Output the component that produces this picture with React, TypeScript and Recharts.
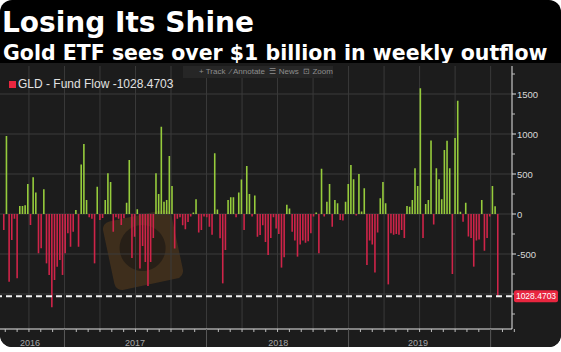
import { Bar, BarChart, CartesianGrid, Cell, ReferenceLine, XAxis, YAxis } from 'recharts';

// weekly GLD fund flow, $M (oldest first)
const fundFlow = [
  -200, 975, -846, -325, -60, -804, 100, 100, 110, 375, -137, 460, 270, -492, -429, 310,
  -617, -762, -1167, -825, -658, -575, -762, -492, -242, -408, -221, 50, -408, 620, 875, 175,
  -40, -60, -617, 340, -75, -50, 175, 510, 400, -221, -40, -60, -137, -54, 140, 675,
  -550, -283, 58, -680, -400, -600, -900, -600, -300, 508, 250, 1092, 154, 175, 725, 350,
  -430, -60, -40, -140, -190, -100, -30, 20, 183, -230, -200, -30, -40, -158, -260, 758,
  55, -304, -867, -450, 175, 208, 208, -40, 270, 430, -200, 600, 250, -30, 230, -283,
  -262, -140, -350, -512, -300, -40, -180, -250, -670, -540, 115, 70, -221, -330, -533, -380,
  -330, -360, -340, -240, -30, 20, -492, 565, -30, 154, 375, -158, 175, 133, -75, -80,
  154, 375, 612, 433, -20, 500, 30, 321, -637, -330, -380, -730, -230, 196, 400, 133,
  -880, -242, -260, -250, -260, -200, -300, 100, 92, 175, 571, 350, 1571, -300, 125, 175,
  920, -130, 571, 433, 183, 800, 917, 571, -750, 950, 1417, 29, -96, 142, -280, -300,
  -658, -330, -320, 175, -460, -300, -30, 350, 96, -1028.4703,
];

const latest = fundFlow[fundFlow.length - 1];

// week index positions of quarter starts / year starts / year label centres
const quarterWeeks = [9.6, 22.9, 36.2, 49.5, 62.8, 76.1, 89.4, 102.7, 116.0, 129.3, 142.6, 155.9, 169.2, 182.5];
const yearStartWeeks = [22.9, 76.1, 129.3, 182.5];
const yearLabels = ['2016', '2017', '2018', '2019'];
const yearLabelWeeks = [10, 49.3, 103, 155.3];

const yTicks = [-1250, -1000, -750, -500, -250, 0, 250, 500, 750, 1000, 1250, 1500, 1750];
const gridValues = [-1000, -500, 0, 500, 1000, 1500];

const data = fundFlow.map((v, i) => ({ i, v }));

const qStep = quarterWeeks[1] - quarterWeeks[0];
const monthTicks: number[] = [];
for (let q = quarterWeeks[0] - qStep; q < 190; q += qStep) {
  for (let k = 0; k < 3; k++) monthTicks.push(+(q + (k * qStep) / 3).toFixed(2));
}
const xTicks = Array.from(new Set([...monthTicks.filter((t) => t > -1), ...yearStartWeeks, ...yearLabelWeeks])).sort(
  (a, b) => a - b,
);

const XTick = (props: any) => {
  const { x, y, payload } = props;
  const v = payload.value;
  const li = yearLabelWeeks.indexOf(v);
  if (li >= 0) {
    return (
      <text x={x} y={y + 17} fill="#a8a8a8" fontSize={9} textAnchor="middle" fontFamily="Liberation Sans, Arial">
        {yearLabels[li]}
      </text>
    );
  }
  if (yearStartWeeks.includes(v)) {
    return <line x1={x} x2={x} y1={y} y2={y + 18} stroke="#5a5a5a" />;
  }
  return <line x1={x} x2={x} y1={y} y2={y + 3} stroke="#bdbdbd" />;
};

const YTick = (props: any) => {
  const { x, y, payload } = props;
  const v = payload.value;
  if (v === latest) {
    return (
      <g>
        <rect x={x + 2} y={y - 6} width={44} height={12} rx={2} fill="#e8263f" />
        <text x={x + 24} y={y + 3.2} fill="#fff" fontSize={8.5} textAnchor="middle" fontFamily="Liberation Sans, Arial">
          {Math.abs(v).toFixed(4)}
        </text>
      </g>
    );
  }
  if (v % 500 === 0 && v !== -1000) {
    return (
      <g>
        <line x1={x} x2={x + 4} y1={y} y2={y} stroke="#e0e0e0" />
        <text x={x + 5} y={y + 3.5} fill="#d8d8d8" fontSize={9.5} fontFamily="Liberation Sans, Arial">
          {v}
        </text>
      </g>
    );
  }
  return <line x1={x} x2={x + 3} y1={y} y2={y} stroke="#bdbdbd" />;
};

export default function App() {
  return (
    <div
      style={{
        position: 'absolute',
        left: 0,
        top: 0,
        width: 561,
        height: 352,
        background: '#fff',
        overflow: 'hidden',
      }}
    >
      <div
        style={{
          position: 'absolute',
          left: 0,
          top: 0,
          width: 561,
          height: 347,
          background: '#000',
          borderRadius: 12,
          overflow: 'hidden',
          fontFamily: 'Liberation Sans, Arial, sans-serif',
        }}
      >
        {/* TITLE */}
        <div
          style={{
            position: 'absolute',
            left: 2,
            top: 6,
            color: '#fff',
            fontFamily: 'DejaVu Sans, sans-serif',
            fontSize: 28,
            fontWeight: 700,
            lineHeight: '34px',
            whiteSpace: 'nowrap',
          }}
        >
          Losing Its Shine
        </div>
        <div
          style={{
            position: 'absolute',
            left: 3,
            top: 41,
            color: '#fff',
            fontFamily: 'DejaVu Sans, sans-serif',
            fontSize: 20.5,
            fontWeight: 700,
            lineHeight: '24px',
            whiteSpace: 'nowrap',
          }}
        >
          Gold ETF sees over $1 billion in weekly outflow
        </div>

        {/* CHART PANEL */}
        <div
          style={{
            position: 'absolute',
            left: 0,
            top: 63,
            width: 561,
            height: 284,
            background: '#1c1c1c',
            borderRadius: '0 0 12px 12px',
            overflow: 'hidden',
          }}
        >
          {/* watermark in the source picture */}
          <div
            style={{
              position: 'absolute',
              left: 108,
              top: 152,
              width: 70,
              height: 70,
              borderRadius: 8,
              background: 'rgba(150,95,30,0.28)',
              transform: 'rotate(-12deg)',
            }}
          >
            <div
              style={{
                position: 'absolute',
                left: 12,
                top: 10,
                width: 46,
                height: 46,
                borderRadius: '50%',
                background: 'rgba(20,20,20,0.55)',
              }}
            />
          </div>
          <BarChart
            width={561}
            height={284}
            data={data}
            margin={{ top: 3, right: 0, bottom: 0, left: 0 }}
            barCategoryGap={0}
            style={{ position: 'relative' }}
          >
            <CartesianGrid
              stroke="#3a3a3a"
              horizontalValues={gridValues}
              verticalValues={quarterWeeks}
              fill="none"
            />
            <XAxis
              dataKey="i"
              type="number"
              domain={[-1.24, 190.5]}
              ticks={xTicks}
              interval={0}
              height={18}
              tickSize={0}
              tickMargin={0}
              tickLine={false}
              axisLine={{ stroke: '#e6e6e6' }}
              tick={XTick}
              allowDataOverflow
            />
            <YAxis
              orientation="right"
              type="number"
              domain={[-1437.5, 1850]}
              ticks={[...yTicks, latest]}
              interval={0}
              width={49}
              tickSize={0}
              tickMargin={0}
              tickLine={false}
              axisLine={{ stroke: '#e6e6e6' }}
              tick={YTick}
              allowDataOverflow
            />
            <ReferenceLine y={latest} stroke="#f2f2f2" strokeWidth={2} strokeDasharray="6 4" />
            <Bar dataKey="v" barSize={1.6} isAnimationActive={false}>
              {data.map((d) => (
                <Cell key={d.i} fill={d.v >= 0 ? '#96cc3c' : '#cf2449'} />
              ))}
            </Bar>
          </BarChart>

          {/* LEGEND */}
          <div
            style={{
              position: 'absolute',
              left: 9,
              top: 14,
              display: 'flex',
              alignItems: 'center',
              color: '#e2e2e2',
              fontSize: 12,
              whiteSpace: 'nowrap',
            }}
          >
            <span style={{ width: 7, height: 7, background: '#e8263f', marginRight: 2 }} />
            GLD - Fund Flow -1028.4703
          </div>

          {/* TOOLBAR */}
          <div
            style={{
              position: 'absolute',
              left: 183,
              top: 3,
              width: 150,
              height: 12,
              background: '#262626',
              color: '#8e8e8e',
              fontSize: 8,
              lineHeight: '12px',
              whiteSpace: 'nowrap',
              paddingLeft: 16,
              boxSizing: 'border-box',
            }}
          >
            + Track &nbsp;⁄ Annotate &nbsp;☰ News &nbsp;⊡ Zoom
          </div>
        </div>
      </div>
    </div>
  );
}
